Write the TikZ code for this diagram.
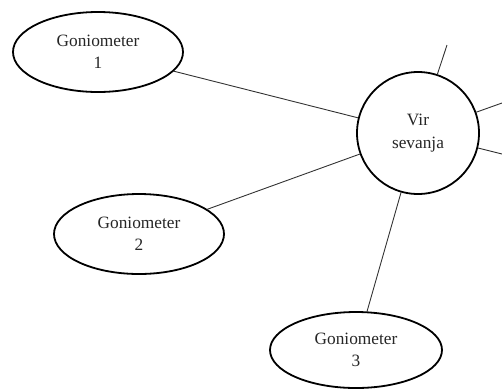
\documentclass[tikz,border=0pt]{standalone}
\usepackage{fontspec}
\setmainfont{Liberation Serif}
\usetikzlibrary{shapes.geometric}
\tikzset{
  gonio/.style={ellipse, draw=black, line width=1.8pt, fill=white,
    minimum width=170pt, minimum height=80pt, inner sep=0pt,
    align=center, font=\fontsize{17.3}{22.5}\selectfont, text=black!85},
  source/.style={circle, draw=black, line width=1.8pt, fill=white,
    minimum size=122pt, inner sep=0pt,
    align=center, font=\fontsize{17.3}{22.5}\selectfont, text=black!85},
  link/.style={draw=black!80, line width=.9pt}
}
\begin{document}
\begin{tikzpicture}[x=1pt, y=-1pt]
\path[use as bounding box] (0,0) rectangle (502,389);

\node[source] (vir) at (418,133) {Vir\\sevanja};
\node[gonio] (g1) at (98,52) {Goniometer\\1};
\node[gonio] (g2) at (139,234) {Goniometer\\2};
\node[gonio, minimum width=172pt, minimum height=76pt] (g3) at (356,350) {Goniometer\\3};

% free ends leaving the picture
\coordinate (up) at (447,45);
\coordinate (ra) at (502,103);
\coordinate (rb) at (502,154);

\draw[link] (g1) -- (vir);
\draw[link] (g2) -- (vir);
\draw[link] (g3) -- (vir);
\draw[link] (vir) -- (up);
\draw[link] (vir) -- (ra);
\draw[link] (vir) -- (rb);
\end{tikzpicture}
\end{document}
